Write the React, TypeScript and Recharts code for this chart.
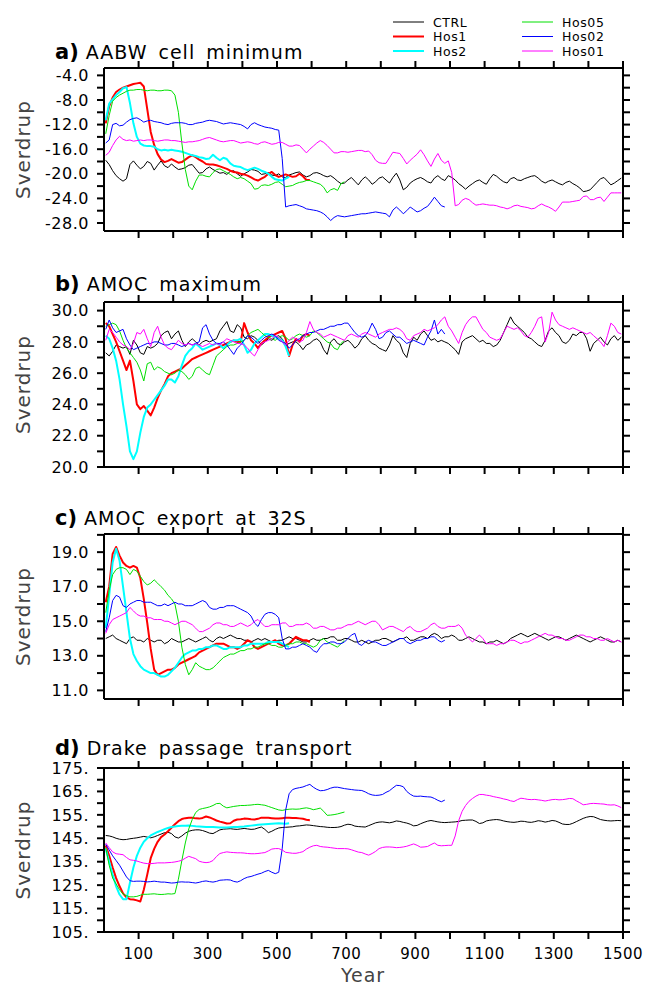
import React from 'react';
import { LineChart, Line, XAxis, YAxis } from 'recharts';

const FONT = '"DejaVu Sans", sans-serif';

const years = [
  5, 15, 25, 35, 45, 55, 65, 75, 85, 95, 105, 115, 125, 135, 145, 155, 165, 175, 185, 195,
  205, 215, 225, 235, 245, 255, 265, 275, 285, 295, 305, 315, 325, 335, 345, 355, 365, 375, 385, 395,
  405, 415, 425, 435, 445, 455, 465, 475, 485, 495, 505, 515, 525, 535, 545, 555, 565, 575, 585, 595,
  605, 615, 625, 635, 645, 655, 665, 675, 685, 695, 705, 715, 725, 735, 745, 755, 765, 775, 785, 795,
  805, 815, 825, 835, 845, 855, 865, 875, 885, 895, 905, 915, 925, 935, 945, 955, 965, 975, 985, 995,
  1005, 1015, 1025, 1035, 1045, 1055, 1065, 1075, 1085, 1095, 1105, 1115, 1125, 1135, 1145, 1155, 1165, 1175, 1185, 1195,
  1205, 1215, 1225, 1235, 1245, 1255, 1265, 1275, 1285, 1295, 1305, 1315, 1325, 1335, 1345, 1355, 1365, 1375, 1385, 1395,
  1405, 1415, 1425, 1435, 1445, 1455, 1465, 1475, 1485, 1495,
];

const xTicks = [100, 200, 300, 400, 500, 600, 700, 800, 900, 1000, 1100, 1200, 1300, 1400, 1500];
const aTicks = [-28, -26, -24, -22, -20, -18, -16, -14, -12, -10, -8, -6, -4];
const bTicks = [20, 21, 22, 23, 24, 25, 26, 27, 28, 29, 30];
const cTicks = [11, 12, 13, 14, 15, 16, 17, 18, 19, 20];
const dTicks = [105, 110, 115, 120, 125, 130, 135, 140, 145, 150, 155, 160, 165, 170, 175];

const seriesNames = ['CTRL', 'Hos1', 'Hos2', 'Hos05', 'Hos02', 'Hos01'];
const seriesColors = ['#000000', '#ff0000', '#00ffff', '#00e000', '#0000ff', '#ff00ff'];
const seriesWidths = [1, 2, 2, 1, 1, 1];

// ---------- a) AABW cell minimum ----------
const aCTRL = [
  -17.8, -18.5, -19.5, -20.3, -20.8, -21.2, -20.8, -18.5, -17.9, -18.6,
  -19.2, -18.8, -18.0, -18.3, -19.4, -18.6, -17.9, -18.7, -19.0, -18.4,
  -18.9, -19.3, -19.2, -19.0, -18.6, -18.5, -19.2, -19.9, -19.8, -19.2,
  -18.9, -19.3, -19.6, -19.9, -19.8, -20.1, -19.6, -19.5, -20.0, -20.4,
  -20.0, -19.7, -19.3, -19.4, -19.6, -20.1, -20.0, -19.8, -20.2, -20.3,
  -20.0, -20.5, -20.6, -20.2, -20.0, -19.8, -19.7, -20.2, -20.5, -20.3,
  -19.9, -19.8, -20.0, -20.3, -20.5, -20.3, -20.7, -21.2, -21.6, -21.5,
  -21.0, -20.6, -21.2, -21.8, -21.0, -20.5, -21.0, -21.7, -21.3, -20.7,
  -20.5, -21.0, -21.5, -20.6, -19.9, -21.0, -22.6, -22.2, -21.5, -21.1,
  -20.8, -20.6, -20.9, -21.3, -21.5, -20.7, -20.3, -20.8, -21.1, -20.3,
  -20.6, -21.0, -21.6, -22.0, -22.5, -22.0, -21.6, -21.2, -21.0, -21.4,
  -21.7, -20.8, -20.1, -20.4, -20.9, -21.3, -21.5, -20.8, -20.6, -21.0,
  -21.1, -20.8, -20.6, -20.4, -20.3, -20.7, -21.2, -21.5, -21.2, -21.0,
  -21.3, -21.6, -21.8, -21.4, -21.2, -21.6, -21.9, -22.3, -22.9, -22.8,
  -22.6, -22.0, -21.4, -20.8, -20.6, -21.2, -21.8, -21.5, -21.1, -20.7,
];
const aHos1 = [
  -11.8, -9.0, -7.6, -6.7, -6.3, -6.0, -5.8, -5.6, -5.4, -5.3,
  -5.2, -5.8, -9.5, -13.2, -15.3, -16.8, -17.7, -18.1, -17.9, -17.6,
  -17.9, -18.2, -18.1, -17.7, -17.3, -17.0, -17.3, -17.7, -18.0, -18.4,
  -18.5, -18.5, -18.6, -18.8, -19.0, -19.2, -19.5, -19.7, -19.8, -20.0,
  -20.1, -20.3, -20.6, -20.9, -21.1, -20.8, -20.5, -20.0, -19.7, -20.2,
  -20.5, -20.3, -20.1, -20.3, -20.5, -20.4, -20.0, -20.4, -21.0, -21.0,
];
const aHos2 = [
  -11.3, -8.6, -7.9, -7.2, -6.7, -6.1, -5.9, -8.5, -11.8, -14.0,
  -15.1, -15.4, -15.5, -15.5, -15.6, -16.0, -16.2, -16.1, -16.2, -16.1,
  -16.2, -16.3, -16.4, -16.6, -16.8, -17.0, -17.1, -17.3, -17.4, -17.6,
  -17.5, -16.9, -17.4, -17.8, -17.4, -17.6, -18.3, -18.7, -18.8, -18.9,
  -19.2, -19.4, -19.2, -19.0, -19.2, -19.5, -19.7, -20.0, -20.5, -20.9,
  -21.0, -21.1, -20.8, -20.5,
];
const aHos05 = [
  -13.5, -10.5, -8.2, -7.6, -7.2, -6.9, -6.6, -6.4, -6.4, -6.3,
  -6.3, -6.4, -6.5, -6.4, -6.4, -6.5, -6.5, -6.4, -6.4, -6.5,
  -7.2, -10.0, -15.0, -19.3, -22.0, -22.6, -21.2, -20.2, -20.2, -20.4,
  -20.5, -19.8, -19.3, -19.2, -19.5, -19.8, -20.1, -20.5, -20.8, -20.6,
  -20.8, -21.2, -21.6, -22.5, -22.4, -21.9, -21.8, -21.9, -21.7, -21.4,
  -21.3, -21.7, -22.1, -22.0, -21.9, -21.6, -21.4, -21.3, -21.1, -21.1,
  -21.3, -21.5, -21.7, -22.2, -23.1, -22.6, -22.4, -22.7, -21.6, -21.3,
];
const aHos02 = [
  -15.0, -14.5, -12.0, -11.8, -12.2, -12.1, -11.6, -11.2, -11.0, -10.9,
  -11.2, -11.6, -11.4, -11.3, -11.5, -11.6, -11.7, -11.9, -12.0, -11.8,
  -11.7, -11.7, -11.7, -11.8, -12.0, -12.0, -11.8, -11.7, -11.6, -11.4,
  -11.3, -11.4, -11.5, -11.7, -11.9, -11.8, -11.7, -11.8, -11.9, -12.0,
  -12.3, -12.7, -12.0, -11.7, -12.0, -12.2, -12.4, -12.5, -12.6, -12.8,
  -12.9, -17.5, -25.4, -25.2, -25.1, -25.0, -25.2, -25.4, -25.7, -25.8,
  -25.9, -26.0, -26.2, -26.5, -27.0, -27.6, -27.1, -26.8, -26.9, -27.0,
  -26.9, -26.8, -26.7, -26.6, -26.5, -26.5, -26.4, -26.3, -26.2, -26.3,
  -26.4, -26.5, -27.0, -25.9, -25.4, -25.9, -26.5, -26.0, -25.4, -25.8,
  -26.2, -26.0, -25.6, -25.3, -24.6, -23.8, -24.5, -25.2, -25.4,
];
const aHos01 = [
  -17.0, -16.5, -15.4, -14.5, -13.9, -14.4, -14.6, -14.5, -14.7, -14.6,
  -14.5, -14.6, -14.5, -14.5, -14.6, -14.7, -14.6, -14.5, -14.5, -14.6,
  -14.6, -14.7, -14.8, -14.9, -14.8, -14.8, -14.7, -14.6, -14.4, -14.2,
  -14.1, -14.3, -14.5, -14.7, -14.8, -14.7, -14.6, -14.6, -14.8, -15.0,
  -14.9, -14.8, -14.9, -15.1, -15.2, -14.9, -14.8, -15.0, -15.2, -15.1,
  -14.9, -14.9, -15.2, -15.5, -15.5, -15.3, -15.4, -16.0, -16.6, -16.0,
  -15.5, -15.0, -14.6, -14.9, -15.4, -16.0, -16.6, -16.6, -16.4, -16.4,
  -16.5, -16.4, -16.3, -16.2, -16.2, -16.4, -16.3, -16.9, -17.8, -18.2,
  -18.3, -18.3, -17.4, -16.5, -16.6, -16.7, -17.5, -18.4, -17.8, -17.3,
  -16.8, -16.1, -16.9, -17.9, -18.8, -17.6, -16.7, -17.8, -18.3, -17.9,
  -19.8, -25.2, -25.0, -24.3, -24.0, -24.2, -24.7, -25.1, -25.0, -24.9,
  -25.0, -25.1, -25.1, -25.2, -25.4, -25.5, -25.7, -25.5, -25.2, -25.1,
  -25.3, -25.4, -25.5, -25.7, -25.6, -25.2, -24.9, -25.2, -25.4, -25.7,
  -26.1, -25.4, -24.6, -24.6, -24.6, -24.5, -24.4, -24.3, -23.7, -23.6,
  -24.2, -24.2, -23.9, -23.8, -24.5, -23.8, -23.1, -23.1, -23.1, -23.1,
];

// ---------- b) AMOC maximum ----------
const bCTRL = [
  27.3, 27.1, 27.4, 27.8, 27.7, 27.6, 27.7, 27.2, 28.1, 27.8,
  27.3, 27.2, 27.7, 27.6, 27.7, 27.9, 28.4, 28.6, 28.7, 28.2,
  28.5, 28.7, 28.1, 27.7, 28.0, 28.2, 28.0, 27.8, 28.0, 28.1,
  28.0, 28.1, 28.2, 28.7, 29.0, 29.3, 28.7, 28.6, 29.1, 28.9,
  28.3, 28.2, 28.4, 28.3, 28.1, 27.8, 28.0, 28.2, 28.1, 28.3,
  28.4, 28.2, 27.8, 27.9, 28.0, 28.0, 27.8, 27.5, 27.8, 27.9,
  28.1, 28.2, 28.0, 27.5, 27.2, 28.0, 28.2, 27.9, 27.8, 28.0,
  28.1, 27.9, 27.6, 27.8, 28.2, 28.4, 28.1, 27.9, 27.8, 27.6,
  27.5, 27.4, 27.8, 28.4, 28.1, 27.9, 27.3, 27.0, 27.9, 28.3,
  28.1, 28.5, 28.7, 28.4, 28.1, 28.2, 28.0, 28.1, 28.0, 27.9,
  27.7, 27.5, 27.2, 28.0, 28.2, 28.3, 28.4, 28.2, 28.0, 28.1,
  27.9, 27.9, 27.7, 27.8, 28.1, 28.6, 29.1, 29.6, 29.2, 29.0,
  28.8, 28.6, 28.3, 28.2, 28.0, 27.8, 27.7, 28.1, 28.7, 28.9,
  28.6, 28.4, 28.0, 27.9, 28.1, 28.5, 28.4, 28.6, 28.6, 28.2,
  27.4, 27.9, 28.1, 28.3, 28.0, 27.8, 28.2, 28.4, 28.1, 28.3,
];
const bHos1 = [
  29.2, 29.0, 28.5, 28.0, 27.4, 26.8, 26.2, 26.8, 25.5, 24.0,
  23.7, 23.9, 23.6, 23.3, 23.8, 24.4, 24.9, 25.3, 25.8, 26.0,
  26.1, 26.2, 26.3, 26.5, 26.7, 26.9, 27.0, 27.1, 27.2, 27.3,
  27.4, 27.5, 27.6, 27.7, 27.8, 27.9, 28.0, 28.1, 28.0, 28.0,
  29.2, 28.6, 28.1, 27.9, 27.6, 27.9, 28.1, 28.3, 28.4, 28.5,
  28.6, 28.7, 28.2, 27.1, 27.8, 28.2, 28.0, 28.4, 28.5, 28.4,
];
const bHos2 = [
  28.4, 28.2, 27.6, 26.8, 25.6, 24.0, 22.6, 21.0, 20.5, 21.0,
  22.2, 23.2, 23.8, 24.0, 24.3, 24.6, 24.9, 25.2, 25.6, 25.6,
  25.4, 25.8, 26.5, 27.1, 27.4, 27.6, 27.9, 27.7, 27.5, 27.6,
  27.7, 27.8, 27.9, 27.8, 27.6, 27.8, 28.0, 28.1, 28.1, 28.2,
  27.8, 27.3, 27.5, 27.9, 28.1, 28.3, 28.5, 28.5, 28.4, 28.3,
  28.2, 28.1, 27.7, 27.1,
];
const bHos05 = [
  29.0, 29.1, 29.2, 29.1, 28.7, 28.1, 27.6, 27.3, 27.0, 26.7,
  26.2, 25.5, 26.6, 26.7, 26.2, 26.4, 26.3, 26.1, 26.0, 25.9,
  26.0, 26.2, 26.1, 25.9, 25.6, 25.8, 26.3, 26.4, 26.2, 26.0,
  25.9, 26.5, 27.1, 27.3, 27.5, 27.7, 27.8, 27.8, 27.9, 28.0,
  28.1, 28.4, 28.6, 28.7, 28.8, 28.6, 28.4, 28.3, 28.2, 28.1,
  28.3, 28.4, 28.3, 28.1, 28.2, 28.4, 28.5, 28.4, 28.3, 28.4,
  28.7, 28.6, 28.4, 28.2, 28.0, 27.9, 27.6, 27.5, 27.9, 28.1,
];
const bHos02 = [
  28.8, 29.4, 28.9, 28.6, 28.7, 28.8, 28.2, 27.8, 27.5, 27.6,
  27.7, 27.8, 27.9, 27.9, 28.0, 28.0, 27.9, 27.8, 27.8, 27.9,
  27.9, 27.8, 27.7, 27.8, 27.9, 27.8, 27.9, 28.0, 28.9, 29.1,
  28.5, 28.1, 27.9, 27.9, 28.0, 27.8, 27.5, 27.2, 27.6, 27.8,
  28.1, 28.4, 28.3, 28.1, 27.9, 28.1, 28.3, 28.4, 28.5, 28.4,
  28.1, 28.0, 27.9, 27.6, 27.8, 28.1, 28.2, 28.4, 28.5, 28.6,
  28.6, 28.7, 28.8, 28.8, 28.9, 29.0, 29.0, 29.1, 29.1, 29.2,
  29.2, 28.9, 28.6, 28.4, 28.3, 28.4, 28.7, 29.2, 28.8, 28.2,
  28.3, 28.6, 28.7, 28.5, 28.3, 28.3, 28.1, 27.9, 28.0, 28.1,
  28.0, 27.9, 27.8, 28.3, 28.7, 29.4, 28.5, 28.8, 28.5,
];
const bHos01 = [
  28.1, 28.8, 28.6, 28.3, 28.0, 27.8, 27.7, 27.5, 27.9, 28.6,
  28.5, 28.8, 28.2, 27.7, 28.6, 29.0, 28.3, 27.8, 27.6, 27.5,
  27.8, 28.1, 27.9, 27.8, 27.9, 27.8, 27.9, 27.8, 27.7, 27.8,
  27.9, 27.8, 27.9, 27.8, 28.0, 28.2, 28.1, 28.0, 27.9, 27.9,
  27.8, 27.6, 27.3, 27.1, 27.5, 27.9, 28.0, 28.1, 28.2, 28.4,
  28.3, 28.0, 27.8, 28.1, 28.3, 28.2, 28.0, 28.1, 28.6, 29.3,
  28.8, 28.6, 28.5, 28.3, 28.4, 28.5, 28.4, 28.3, 28.2, 28.1,
  28.4, 28.5, 28.4, 28.3, 28.5, 28.6, 28.5, 28.4, 28.3, 28.5,
  28.6, 28.7, 28.8, 28.8, 28.9, 28.8, 28.6, 28.2, 28.1, 28.4,
  28.5, 28.6, 28.8, 28.7, 28.8, 28.9, 29.1, 29.4, 29.6, 29.0,
  28.7, 28.3, 27.9, 28.6, 29.1, 29.4, 29.6, 29.6, 29.2, 28.8,
  28.6, 28.3, 28.2, 28.1, 28.2, 28.6, 29.0, 28.9, 28.8, 28.9,
  28.7, 28.4, 28.3, 28.6, 29.0, 29.5, 29.6, 28.0, 28.6, 29.9,
  29.4, 29.1, 29.0, 28.9, 28.8, 28.9, 28.8, 28.7, 28.6, 28.5,
  28.6, 28.4, 28.2, 28.0, 27.7, 28.4, 29.2, 29.0, 28.6, 28.5,
];

// ---------- c) AMOC export at 32S ----------
const cCTRL = [
  14.0, 14.1, 14.2, 14.0, 13.9, 13.8, 13.7, 14.0, 14.1, 13.9,
  13.9, 13.8, 14.0, 13.9, 13.8, 13.9, 13.9, 13.7, 13.8, 14.0,
  13.9, 13.8, 13.8, 13.9, 14.0, 13.9, 13.8, 13.9, 14.0, 14.1,
  13.9, 13.8, 14.0, 14.1, 14.0, 14.1, 14.2, 14.1, 14.0, 14.0,
  13.9, 13.9, 13.8, 13.9, 14.0, 13.9, 14.0, 13.9, 13.8, 13.8,
  13.9, 13.9, 14.0, 14.1, 14.0, 14.0, 13.9, 13.8, 13.8, 13.9,
  14.0, 13.9, 13.9, 14.0, 14.0, 14.1, 14.1, 13.9, 13.9, 14.0,
  14.0, 13.9, 13.8, 13.8, 13.9, 13.8, 13.7, 13.8, 13.9, 13.9,
  14.0, 14.0, 13.9, 13.8, 13.9, 14.0, 14.0, 14.1, 13.9, 13.9,
  14.0, 14.1, 14.1, 14.0, 14.2, 14.3, 14.2, 14.0, 14.1, 14.1,
  14.2, 14.1, 13.9, 13.9, 14.0, 14.1, 14.0, 13.9, 13.8, 13.8,
  13.7, 13.8, 13.8, 13.9, 13.8, 13.7, 13.8, 14.0, 14.1, 14.2,
  14.3, 14.2, 14.1, 14.2, 14.3, 14.2, 14.1, 14.0, 13.9, 14.0,
  14.1, 14.1, 14.0, 13.9, 14.0, 14.1, 14.2, 14.1, 14.0, 13.9,
  13.8, 13.9, 14.0, 14.1, 14.0, 13.9, 13.8, 13.8, 13.9, 13.8,
];
const cHos1 = [
  16.1, 17.0, 18.9, 19.3, 18.8, 18.4, 18.2, 18.1, 18.2, 18.1,
  17.5, 16.3, 14.9, 13.4, 12.2, 11.9, 12.0, 12.1, 12.2, 12.2,
  12.3, 12.5, 12.6, 12.7, 12.8, 12.9, 13.0, 13.2, 13.3, 13.4,
  13.5, 13.6, 13.7, 13.7, 13.7, 13.6, 13.5, 13.5, 13.4, 13.5,
  13.7, 13.9, 13.8, 13.5, 13.4, 13.5, 13.6, 13.7, 13.8, 13.9,
  13.7, 13.6, 13.6, 13.7, 13.9, 14.1, 14.0, 13.9, 13.9, 13.8,
];
const cHos2 = [
  14.6, 16.5, 18.4, 19.2, 18.5, 17.0, 15.5, 14.0, 13.1, 12.7,
  12.4, 12.2, 12.1, 12.0, 12.0, 11.9, 11.8, 11.8, 11.9, 12.1,
  12.3, 12.6, 12.9, 13.1, 13.2, 13.3, 13.3, 13.4, 13.4, 13.5,
  13.5, 13.6, 13.6, 13.5, 13.4, 13.4, 13.5, 13.5, 13.5, 13.5,
  13.6, 13.6, 13.7, 13.7, 13.7, 13.7, 13.7, 13.8, 13.8, 13.8,
  13.8, 13.7, 13.6, 13.5,
];
const cHos05 = [
  15.5, 16.8, 17.7, 18.0, 18.1, 18.1, 18.0, 17.7, 18.0, 17.9,
  17.6, 17.3, 17.1, 17.2, 17.4, 17.2, 17.0, 16.8, 16.5, 16.3,
  16.0, 15.0, 13.5, 12.5, 11.9, 12.2, 12.6, 12.4, 12.3, 12.2,
  12.2, 12.3, 12.5, 12.7, 12.9, 13.0, 13.1, 13.1, 13.2, 13.3,
  13.3, 13.4, 13.4, 13.5, 13.5, 13.6, 13.7, 13.7, 13.6, 13.6,
  13.5, 13.5, 13.6, 13.7, 13.7, 13.8, 13.8, 13.7, 13.7, 13.6,
  13.5, 13.6, 13.9, 14.0, 13.8, 13.7, 13.6, 13.5, 13.7, 13.9,
];
const cHos02 = [
  14.4, 15.2, 16.2, 16.5, 16.4, 15.9, 15.8, 16.0, 16.1, 16.2,
  16.2, 16.1, 16.1, 16.1, 16.0, 15.9, 15.9, 16.0, 15.9, 16.0,
  16.1, 16.0, 16.0, 15.9, 15.9, 15.9, 16.0, 16.1, 16.2, 16.1,
  15.8, 15.7, 15.7, 15.8, 15.8, 15.9, 15.9, 15.9, 15.8, 15.7,
  15.6, 15.5, 15.3, 14.9, 14.7, 15.1, 15.4, 15.5, 15.5, 15.4,
  15.2, 14.0, 13.4, 13.4, 13.5, 13.5, 13.6, 13.7, 13.6, 13.5,
  13.3, 13.2, 13.5, 13.7, 13.7, 13.8, 13.8, 13.7, 13.7, 13.8,
  14.0, 14.2, 14.3, 13.7, 13.6, 13.8, 13.9, 13.8, 13.8, 13.7,
  13.6, 13.6, 13.7, 13.8, 13.9, 14.0, 14.0, 13.8, 13.7, 13.8,
  13.9, 13.9, 14.0, 14.0, 14.1, 14.1, 13.9, 13.8, 13.9,
];
const cHos01 = [
  14.3, 14.8, 15.1, 15.2, 15.3, 15.4, 15.5, 15.8, 15.6, 15.4,
  15.3, 15.3, 15.2, 15.2, 15.1, 15.1, 15.1, 15.0, 15.0, 14.9,
  14.8, 14.9, 15.0, 15.0, 14.9, 14.8, 14.6, 14.4, 14.4, 14.5,
  14.6, 14.8, 14.9, 14.9, 14.8, 14.8, 14.7, 14.7, 14.8, 14.9,
  14.8, 14.7, 14.8, 15.0, 15.1, 14.9, 14.7, 14.7, 14.8, 14.8,
  14.8, 14.9, 14.9, 14.7, 14.7, 14.8, 14.8, 14.8, 14.9, 14.8,
  14.6, 14.6, 14.7, 14.7, 14.6, 14.5, 14.5, 14.6, 14.6, 14.7,
  14.8, 14.8, 14.9, 15.0, 14.9, 14.8, 14.9, 15.0, 15.0, 14.8,
  14.5, 14.6, 14.7, 14.7, 14.6, 14.5, 14.4, 14.6, 14.7, 14.5,
  14.4, 14.4, 14.5, 14.6, 14.8, 14.9, 14.7, 14.6, 14.6, 14.7,
  14.7, 14.7, 14.8, 14.6, 14.2, 14.0, 13.8, 14.0, 14.2, 14.0,
  13.7, 13.7, 13.7, 13.6, 13.7, 13.7, 13.8, 13.9, 13.9, 13.8,
  13.7, 13.8, 13.8, 13.9, 14.0, 14.1, 14.2, 14.3, 14.2, 14.2,
  14.1, 14.0, 14.0, 13.9, 13.9, 14.0, 14.1, 14.2, 14.2, 14.1,
  14.1, 14.0, 14.0, 13.9, 13.9, 14.0, 13.9, 13.8, 13.9, 13.8,
];

// ---------- d) Drake passage transport ----------
const dCTRL = [
  146.2, 146.0, 145.6, 145.0, 144.6, 144.4, 144.5, 144.8, 145.0, 145.2,
  145.5, 145.8, 145.5, 145.2, 145.6, 146.2, 146.8, 147.4, 147.6, 147.0,
  145.6, 145.1, 146.0, 147.2, 148.0, 148.4, 148.6, 148.6, 148.3, 147.8,
  147.2, 147.0, 147.8, 148.6, 148.9, 149.0, 149.1, 148.9, 148.8, 149.0,
  149.2, 149.0, 148.8, 148.9, 149.4, 149.8, 148.8, 147.4, 148.0, 148.8,
  149.4, 149.6, 149.7, 149.8, 149.9, 150.2, 150.3, 150.5, 150.7, 150.6,
  150.4, 150.2, 150.0, 149.9, 149.7, 149.6, 149.6, 149.7, 150.0, 150.6,
  151.0, 150.8, 150.2, 150.0, 149.9, 149.8, 150.4, 151.0, 151.6, 151.9,
  152.0, 151.8, 151.6, 151.9, 152.4, 152.2, 151.8, 151.5, 151.0, 150.3,
  150.5, 151.2, 151.8, 152.3, 152.6, 152.3, 152.0, 151.8, 151.7, 151.8,
  151.9, 152.0, 152.2, 152.6, 152.7, 152.8, 152.8, 152.2, 151.3, 151.6,
  152.4, 152.7, 152.9, 153.0, 152.8, 152.4, 152.1, 151.9, 151.8, 152.0,
  152.3, 152.2, 151.9, 151.8, 152.1, 152.5, 152.3, 151.9, 152.2, 152.6,
  152.4, 151.8, 151.1, 150.9, 150.9, 151.4, 152.1, 152.8, 153.5, 154.0,
  154.3, 154.2, 153.6, 153.0, 152.7, 152.5, 152.4, 152.5, 152.6, 152.5,
];
const dHos1 = [
  142.0, 137.5, 132.5, 128.0, 124.5, 121.5, 119.8, 119.0, 118.9, 118.5,
  118.0, 123.0, 129.5, 136.5, 140.5, 143.5, 145.5, 146.6, 148.0, 149.5,
  151.0, 152.3, 153.2, 153.6, 153.8, 153.8, 153.5, 153.4, 153.7, 154.3,
  153.9, 153.3, 152.6, 152.1, 151.7, 151.3, 151.4, 152.5, 153.0, 153.1,
  153.4, 153.3, 153.1, 153.0, 153.3, 153.8, 153.8, 153.8, 153.6, 153.4,
  153.4, 153.6, 153.8, 153.8, 153.7, 153.7, 153.5, 153.3, 152.9, 152.7,
];
const dHos2 = [
  140.5, 135.0, 129.5, 124.5, 121.0, 119.0, 119.0, 126.0, 132.5, 137.5,
  141.0, 143.5, 145.0, 146.2, 147.0, 147.7, 148.3, 148.9, 149.4, 149.8,
  150.0, 150.2, 150.3, 150.4, 150.5, 150.3, 150.1, 150.0, 149.9, 149.8,
  149.8, 149.8, 149.7, 149.6, 149.6, 149.6, 149.7, 149.8, 149.8, 149.9,
  150.0, 150.2, 150.4, 150.6, 150.8, 150.9, 151.0, 151.1, 151.2, 151.3,
  151.4, 151.3, 151.2, 151.4,
];
const dHos05 = [
  141.0, 133.5, 128.0, 125.5, 123.0, 121.2, 120.5, 120.0, 120.0, 120.2,
  120.7, 121.1, 121.1, 121.2, 121.3, 121.1, 121.0, 121.1, 121.3, 121.2,
  121.4, 127.5, 135.5, 143.0, 149.0, 153.0, 156.0, 157.3, 157.7, 158.0,
  158.4, 159.0, 159.8, 159.9, 158.7, 158.0, 158.3, 158.6, 158.8, 159.0,
  159.0, 159.1, 159.2, 159.4, 159.5, 159.3, 159.1, 158.6, 158.1, 157.6,
  157.1, 156.9, 157.2, 157.4, 157.5, 157.4, 157.5, 157.8, 158.0, 157.7,
  157.2, 157.5, 157.9, 156.5, 154.8, 154.9, 155.1, 155.4, 155.8, 156.2,
];
const dHos02 = [
  142.5, 140.0, 137.5, 135.5, 133.5, 131.0, 128.5, 126.9, 126.6, 126.7,
  126.7, 126.6, 126.4, 126.5, 126.7, 126.5, 126.3, 126.3, 126.1, 125.9,
  126.0, 126.3, 126.4, 126.3, 126.3, 126.1, 125.9, 126.2, 126.6, 126.8,
  126.5, 126.3, 126.6, 127.1, 127.2, 127.3, 127.2, 126.6, 126.3, 126.9,
  127.8, 128.4, 128.7, 129.2, 129.7, 130.1, 130.8, 131.3, 130.5, 129.9,
  130.5, 140.5, 157.0, 164.0, 165.8, 166.3, 166.6, 166.9, 167.5, 168.0,
  166.8, 165.9, 165.3, 165.4, 165.8, 166.4, 166.8, 166.8, 166.5, 166.2,
  166.0, 165.8, 165.6, 165.5, 165.4, 164.8, 164.0, 163.5, 163.3, 163.4,
  163.7, 164.6, 165.3, 166.5, 167.6, 167.5, 167.0, 165.0, 163.8, 163.0,
  162.9, 163.0, 162.8, 162.7, 162.6, 162.0, 161.2, 160.6, 161.3,
];
const dHos01 = [
  143.0, 141.0, 139.2, 138.4, 138.2, 138.0, 136.8, 135.8, 135.6, 135.3,
  134.8, 134.4, 134.2, 134.2, 134.3, 134.5, 134.5, 134.5, 134.6, 134.7,
  134.9, 135.2, 135.6, 136.5, 137.3, 136.8, 136.3, 135.2, 134.8, 134.6,
  134.8, 135.5, 137.2, 138.5, 138.9, 139.2, 139.0, 138.9, 138.8, 138.8,
  138.7, 138.5, 138.4, 138.4, 138.5, 138.7, 138.9, 139.6, 140.4, 140.6,
  140.6, 140.0, 139.0, 138.8, 138.6, 138.6, 138.9, 139.3, 140.4, 141.2,
  141.8, 142.0, 141.5, 141.3, 141.2, 141.0, 140.8, 140.6, 140.6, 140.6,
  140.5, 140.1, 139.6, 139.1, 138.9, 138.3, 137.8, 138.5, 139.4, 140.6,
  141.1, 141.3, 141.3, 141.2, 141.0, 141.1, 141.3, 141.6, 142.1, 142.6,
  142.0, 141.2, 141.3, 141.5, 142.3, 143.0, 142.0, 141.8, 141.9, 142.0,
  142.0, 146.0, 152.5, 156.5, 159.0, 160.8, 162.0, 163.0, 163.7, 163.7,
  163.4, 163.2, 162.8, 162.5, 162.2, 161.8, 161.5, 161.0, 160.7, 161.5,
  162.1, 161.9, 161.6, 161.5, 161.6, 161.4, 161.2, 160.9, 161.2, 161.5,
  161.6, 161.4, 161.5, 161.7, 162.0, 161.9, 161.0, 160.2, 159.3, 159.5,
  159.8, 159.9, 159.8, 159.7, 159.6, 159.3, 159.2, 159.3, 158.8, 158.1,
];

const fmtA = (v: number) => (Math.abs(v) % 4 === 0 ? v.toFixed(1) : '');
const fmtB = (v: number) => (v % 2 === 0 ? v.toFixed(1) : '');
const fmtC = (v: number) => (v % 2 === 1 ? v.toFixed(1) : '');
const fmtD = (v: number) => ((v - 105) % 10 === 0 ? `${v}.` : '');
const fmtX = (v: number) => ((v / 100) % 2 === 1 ? String(v) : '');

interface PanelCfg {
  label: string;
  title: string;
  top: number;
  bottom: number;
  titleY: number;
  domain: [number, number];
  ticks: number[];
  fmt: (v: number) => string;
  series: number[][];
  showX: boolean;
}

const panels: PanelCfg[] = [
  { label: 'a)', title: 'AABW cell minimum', top: 68, bottom: 231, titleY: 59, domain: [-29.3, -2.8], ticks: aTicks, fmt: fmtA, series: [aCTRL, aHos1, aHos2, aHos05, aHos02, aHos01], showX: false },
  { label: 'b)', title: 'AMOC maximum', top: 302, bottom: 467, titleY: 291, domain: [20, 30.55], ticks: bTicks, fmt: fmtB, series: [bCTRL, bHos1, bHos2, bHos05, bHos02, bHos01], showX: false },
  { label: 'c)', title: 'AMOC export at 32S', top: 534, bottom: 699, titleY: 525, domain: [10.5, 20.05], ticks: cTicks, fmt: fmtC, series: [cCTRL, cHos1, cHos2, cHos05, cHos02, cHos01], showX: false },
  { label: 'd)', title: 'Drake passage transport', top: 768, bottom: 932, titleY: 755, domain: [105, 175], ticks: dTicks, fmt: fmtD, series: [dCTRL, dHos1, dHos2, dHos05, dHos02, dHos01], showX: true },
];

const toData = (vals: number[]) => vals.map((v, i) => ({ year: years[i], v }));

const lineStyle = { stroke: '#000', strokeWidth: 2 };

function Panel({ p }: { p: PanelCfg }) {
  const topAxisH = 2;
  const bottomAxisH = p.showX ? 30 : 2;
  const mTop = 18;
  const mBottom = p.showX ? 6 : 18;
  const h = p.bottom - p.top + mTop + mBottom + topAxisH + bottomAxisH;
  return (
    <div style={{ position: 'absolute', left: 0, top: p.top - mTop - topAxisH }}>
      <LineChart width={648} height={h} margin={{ top: mTop, right: 0, bottom: mBottom, left: 0 }}>
        <XAxis
          xAxisId="b"
          type="number"
          dataKey="year"
          domain={[0, 1500]}
          ticks={xTicks}
          interval={0}
          orientation="bottom"
          height={bottomAxisH}
          tickSize={7}
          tickMargin={9}
          axisLine={lineStyle}
          tickLine={lineStyle}
          tick={{ fill: '#000', fontSize: 15, fontFamily: FONT, letterSpacing: 0.5 }}
          tickFormatter={p.showX ? fmtX : () => ''}
          allowDataOverflow
        />
        <XAxis
          xAxisId="t"
          type="number"
          dataKey="year"
          domain={[0, 1500]}
          ticks={xTicks}
          interval={0}
          orientation="top"
          height={topAxisH}
          tickSize={7}
          axisLine={lineStyle}
          tickLine={lineStyle}
          tick={{ fill: '#000', fontSize: 10 }}
          tickFormatter={() => ''}
          allowDataOverflow
        />
        <YAxis
          yAxisId="l"
          type="number"
          domain={p.domain}
          ticks={p.ticks}
          interval={0}
          width={104}
          tickSize={7}
          tickMargin={8}
          axisLine={lineStyle}
          tickLine={lineStyle}
          tick={{ fill: '#000', fontSize: 16, fontFamily: FONT, letterSpacing: 0.5 }}
          tickFormatter={p.fmt}
          allowDataOverflow
        />
        <YAxis
          yAxisId="r"
          orientation="right"
          type="number"
          domain={p.domain}
          ticks={p.ticks}
          interval={0}
          width={25}
          tickSize={7}
          axisLine={lineStyle}
          tickLine={lineStyle}
          tick={{ fill: '#000', fontSize: 10 }}
          tickFormatter={() => ''}
          allowDataOverflow
        />
        {p.series.map((vals, i) => (
          <Line
            key={seriesNames[i]}
            name={seriesNames[i]}
            data={toData(vals)}
            dataKey="v"
            xAxisId="b"
            yAxisId="l"
            type="linear"
            stroke={seriesColors[i]}
            strokeWidth={seriesWidths[i]}
            strokeLinejoin="round"
            dot={false}
            activeDot={false}
            isAnimationActive={false}
          />
        ))}
      </LineChart>
    </div>
  );
}

export default function App() {
  const legendCols = [
    { lineX1: 393, lineX2: 424, textX: 433 },
    { lineX1: 522, lineX2: 553, textX: 562 },
  ];
  const rowY = [22, 36.5, 51];
  return (
    <div style={{ position: 'absolute', left: 0, top: 0, width: 648, height: 986, background: '#fff', overflow: 'hidden' }}>
      {panels.map((p) => (
        <Panel key={p.label} p={p} />
      ))}
      <svg width={648} height={986} style={{ position: 'absolute', left: 0, top: 0, pointerEvents: 'none' }}>
        {seriesNames.map((n, i) => {
          const col = legendCols[Math.floor(i / 3)];
          const y = rowY[i % 3];
          return (
            <g key={n}>
              <line x1={col.lineX1} x2={col.lineX2} y1={y} y2={y} stroke={seriesColors[i]} strokeWidth={seriesWidths[i]} />
              <text x={col.textX} y={y + 4.5} fontFamily={FONT} fontSize={12.5} fill="#000" style={{ letterSpacing: '0.6px' }}>
                {n}
              </text>
            </g>
          );
        })}
        {panels.map((p) => (
          <text key={p.label} x={55} y={p.titleY} fontFamily={FONT} fill="#000">
            <tspan fontWeight="bold" fontSize={21}>
              {p.label}
            </tspan>
            <tspan dx={7} fontSize={19} style={{ letterSpacing: '1px', wordSpacing: '4px' }}>
              {p.title}
            </tspan>
          </text>
        ))}
        {panels.map((p) => {
          const cy = (p.top + p.bottom) / 2;
          return (
            <text
              key={'s' + p.label}
              transform={`translate(30, ${cy}) rotate(-90)`}
              textAnchor="middle"
              fontFamily={FONT}
              fontSize={20}
              fill="#444"
              style={{ letterSpacing: '1px' }}
            >
              Sverdrup
            </text>
          );
        })}
        <text x={363} y={982} textAnchor="middle" fontFamily={FONT} fontSize={19} fill="#444" style={{ letterSpacing: '1px' }}>
          Year
        </text>
      </svg>
    </div>
  );
}
